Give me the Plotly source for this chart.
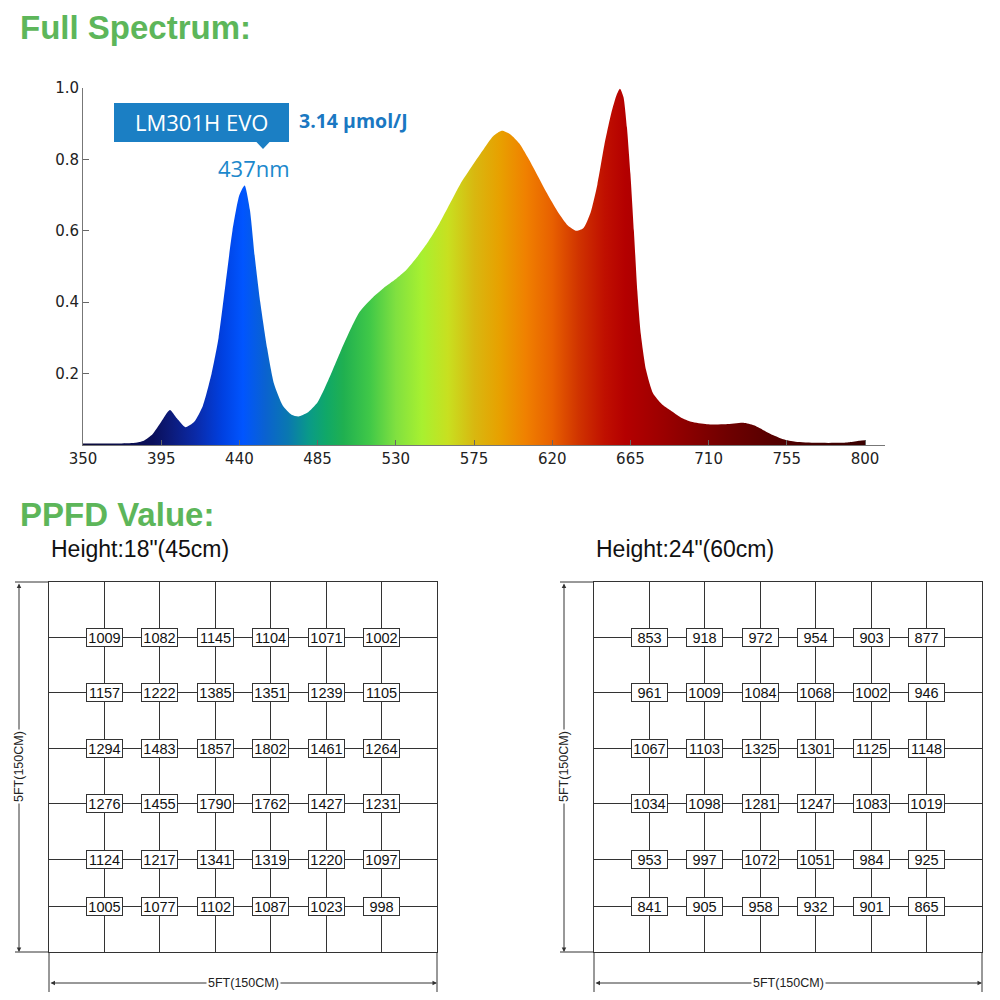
import plotly.graph_objects as go

# spectrum (nm, relative intensity)
wavelength = [350, 360, 370, 380, 385, 390, 395, 400, 404, 409, 414, 419, 424, 428, 432, 436, 440, 443,
              446, 449, 452, 456, 460, 465, 470, 474, 479, 485, 491, 498, 504, 509, 516, 523, 530, 536,
              542, 548, 555, 561, 567, 573, 580, 586, 591, 596, 601, 606, 611, 617, 623, 629, 634, 638,
              642, 646, 650, 654, 657, 659, 661, 663, 665, 667, 669, 671, 674, 678, 683, 688, 694, 700,
              709, 720, 730, 736, 741, 747, 753, 760, 772, 785, 791, 797, 800]
intensity = [0.004, 0.004, 0.004, 0.006, 0.012, 0.03, 0.065, 0.098, 0.075, 0.05, 0.065, 0.11, 0.2, 0.3,
             0.45, 0.6, 0.7, 0.727, 0.66, 0.52, 0.4, 0.27, 0.17, 0.11, 0.085, 0.08, 0.09, 0.12, 0.18,
             0.26, 0.325, 0.372, 0.41, 0.44, 0.465, 0.49, 0.525, 0.565, 0.62, 0.675, 0.73, 0.775, 0.825,
             0.865, 0.88, 0.87, 0.845, 0.805, 0.76, 0.705, 0.655, 0.615, 0.6, 0.608, 0.65, 0.73, 0.84,
             0.93, 0.98, 0.998, 0.975, 0.89, 0.76, 0.6, 0.43, 0.31, 0.21, 0.145, 0.115, 0.097, 0.077,
             0.065, 0.058, 0.058, 0.062, 0.055, 0.043, 0.028, 0.016, 0.009, 0.006, 0.006, 0.008, 0.012,
             0.013]

# colour of the fill along the wavelength axis
color_nm = [350, 390, 400, 415, 430, 442, 455, 468, 480, 490, 500, 515, 530, 545, 560, 575, 590, 605,
            620, 635, 650, 662, 680, 700, 720, 745, 770, 800]
color_hex = ['#0b0b3a', '#0a0f5a', '#0c1a78', '#0a2aa8', '#0040e0', '#0055ff', '#0a62d0', '#0a78b0',
             '#0a9a88', '#10a868', '#20b050', '#40c848', '#80e040', '#a8f030', '#c8e020', '#d8b810',
             '#e8a000', '#f08000', '#e86000', '#d03400', '#c01000', '#b40000', '#a00000', '#880000',
             '#700000', '#580000', '#440000', '#3a0000']

x_ticks = [350, 395, 440, 485, 530, 575, 620, 665, 710, 755, 800]
y_ticks = [0.2, 0.4, 0.6, 0.8, 1.0]

# PPFD grids (rows top to bottom)
ppfd_18 = [[1009, 1082, 1145, 1104, 1071, 1002],
           [1157, 1222, 1385, 1351, 1239, 1105],
           [1294, 1483, 1857, 1802, 1461, 1264],
           [1276, 1455, 1790, 1762, 1427, 1231],
           [1124, 1217, 1341, 1319, 1220, 1097],
           [1005, 1077, 1102, 1087, 1023, 998]]
ppfd_24 = [[853, 918, 972, 954, 903, 877],
           [961, 1009, 1084, 1068, 1002, 946],
           [1067, 1103, 1325, 1301, 1125, 1148],
           [1034, 1098, 1281, 1247, 1083, 1019],
           [953, 997, 1072, 1051, 984, 925],
           [841, 905, 958, 932, 901, 865]]
grid_titles = ['Height:18"(45cm)', 'Height:24"(60cm)']
dim_label = '5FT(150CM)'

GREEN = '#5db65a'
BLUE = '#1b7fc4'
LINE = '#333333'

# the page puts the plot 8px in from the corner, so size it to fill the rest
OFF = 8
SIZE = 1000 - OFF


def px(x):
    return (x - OFF) / SIZE


def py(y):
    return 1 - (y - OFF) / SIZE


fig = go.Figure()

colorscale = [[(w - 350) / 450, c] for w, c in zip(color_nm, color_hex)]
fig.add_trace(go.Scatter(
    x=wavelength, y=intensity, mode='lines', fill='tozeroy',
    line=dict(width=0, color='rgba(0,0,0,0)', shape='spline', smoothing=0.6),
    fillgradient=dict(type='horizontal', colorscale=colorscale, start=350, stop=800),
    hoverinfo='skip', showlegend=False))

# row positions of the measuring grid (layout, drawing units)
row_pos = [55, 110, 166, 221, 277, 324]
col_pos = [1, 2, 3, 4, 5, 6]

grid_axis_x = dict(range=[0, 7], tickvals=col_pos, showgrid=True, gridcolor=LINE, gridwidth=1,
                   showline=True, mirror=True, linecolor=LINE, linewidth=1.2, zeroline=False,
                   showticklabels=False, ticks='', fixedrange=True, automargin=False)
grid_axis_y = dict(range=[370, 0], tickvals=row_pos, showgrid=True, gridcolor=LINE, gridwidth=1,
                   showline=True, mirror=True, linecolor=LINE, linewidth=1.2, zeroline=False,
                   showticklabels=False, ticks='', fixedrange=True, automargin=False)

G_TOP, G_BOT = 582, 952
G_LEFT = [49, 594]
G_W = 388

tick_font = dict(family='DejaVu Sans', size=15, color='#222')
fig.update_layout(
    width=SIZE, height=SIZE, margin=dict(l=0, r=0, t=0, b=0, pad=0, autoexpand=False),
    paper_bgcolor='white', plot_bgcolor='white', showlegend=False,
    xaxis=dict(domain=[px(83), px(885)], range=[350, 811.5], tickvals=x_ticks, ticks='inside', ticklen=5,
               tickcolor='#666', showline=True, linecolor='#777', linewidth=1, showgrid=False,
               zeroline=False, automargin=False, tickfont=tick_font),
    yaxis=dict(domain=[py(445), py(88)], range=[0, 1], tickvals=y_ticks,
               ticktext=['%.1f' % v for v in y_ticks], ticks='inside', ticklen=6, tickcolor='#666',
               showline=True, linecolor='#777', linewidth=1, showgrid=False, zeroline=False,
               automargin=False, tickfont=tick_font),
    xaxis2=dict(domain=[px(G_LEFT[0]), px(G_LEFT[0] + G_W)], anchor='y2', **grid_axis_x),
    yaxis2=dict(domain=[py(G_BOT), py(G_TOP)], anchor='x2', **grid_axis_y),
    xaxis3=dict(domain=[px(G_LEFT[1]), px(G_LEFT[1] + G_W)], anchor='y3', **grid_axis_x),
    yaxis3=dict(domain=[py(G_BOT), py(G_TOP)], anchor='x3', **grid_axis_y),
)
# empty traces so the grid axes get drawn
fig.add_trace(go.Scatter(x=[], y=[], xaxis='x2', yaxis='y2'))
fig.add_trace(go.Scatter(x=[], y=[], xaxis='x3', yaxis='y3'))

anns = []
shapes = []


def note(text, x, y, size, color, family='Liberation Sans', xanchor='center', **kw):
    d = dict(text=text, x=px(x), y=py(y), xref='paper', yref='paper', xanchor=xanchor, yanchor='middle',
             showarrow=False, font=dict(family=family, size=size, color=color))
    d.update(kw)
    return d


def seg(x0, y0, x1, y1):
    return dict(type='line', xref='paper', yref='paper', x0=px(x0), x1=px(x1), y0=py(y0), y1=py(y1),
                line=dict(color=LINE, width=1))


# headings
anns.append(note('<b>Full Spectrum:</b>', 18, 27, 33, GREEN, xanchor='left'))
anns.append(note('<b>PPFD Value:</b>', 18, 514, 33, GREEN, xanchor='left'))

# spectrum callout
shapes.append(dict(type='rect', xref='paper', yref='paper', x0=px(114), x1=px(289), y0=py(142), y1=py(103),
                   fillcolor=BLUE, line=dict(width=0), layer='below'))
shapes.append(dict(type='path', xref='paper', yref='paper',
                   path='M %f %f L %f %f L %f %f Z' % (px(256), py(141.5), px(263), py(149),
                                                       px(270), py(141.5)),
                   fillcolor=BLUE, line=dict(width=0), layer='below'))
anns.append(note('LM301H EVO', 201, 122, 22, 'white', family='Open Sans'))
anns.append(note('<b>3.14 μmol/J</b>', 297, 121, 19.5, '#1a78c2', family='Open Sans', xanchor='left'))
anns.append(note('437nm', 254, 168, 22, '#1c88cc', family='Open Sans'))

# PPFD grids
for k, (vals, title, xa, ya) in enumerate([(ppfd_18, grid_titles[0], 'x2', 'y2'),
                                          (ppfd_24, grid_titles[1], 'x3', 'y3')]):
    left = G_LEFT[k]
    right = left + G_W
    anns.append(note(title, left, 549, 23, '#111', xanchor='left'))
    for r, row in enumerate(vals):
        for c, v in enumerate(row):
            anns.append(dict(text=str(v), x=col_pos[c], y=row_pos[r], xref=xa, yref=ya, showarrow=False,
                             xanchor='center', yanchor='middle',
                             bgcolor='white', bordercolor=LINE, borderwidth=1, borderpad=1,
                             width=33, height=15,
                             font=dict(family='Liberation Sans', size=14.5, color='#111')))
    # dimension lines
    ax_x = left - 30
    shapes += [seg(ax_x - 4, G_TOP, left, G_TOP), seg(ax_x - 4, G_BOT, left, G_BOT),
               seg(left, G_BOT, left, 992), seg(right, G_BOT, right, 992)]
    anns.append(dict(text='', x=px(ax_x), y=py(G_BOT), xref='paper', yref='paper', ax=0,
                     ay=-(G_BOT - G_TOP), axref='pixel', ayref='pixel', showarrow=True, arrowhead=2,
                     arrowside='end+start', arrowsize=0.9, arrowwidth=1, arrowcolor=LINE))
    anns.append(dict(text='', x=px(right), y=py(983), xref='paper', yref='paper', ax=-G_W, ay=0,
                     axref='pixel', ayref='pixel', showarrow=True, arrowhead=2, arrowside='end+start',
                     arrowsize=0.9, arrowwidth=1, arrowcolor=LINE))
    anns.append(note(dim_label, ax_x, (G_TOP + G_BOT) / 2, 12.5, '#222', textangle=-90,
                     bgcolor='white', borderpad=1))
    anns.append(note(dim_label, (left + right) / 2, 983, 12.5, '#222', bgcolor='white', borderpad=1))

fig.update_layout(annotations=anns, shapes=shapes)

fig.write_html("out.html")
